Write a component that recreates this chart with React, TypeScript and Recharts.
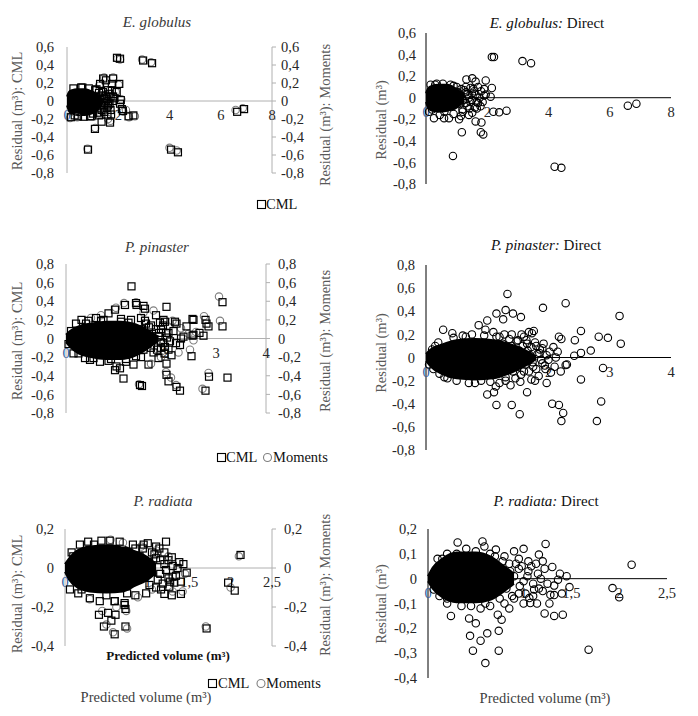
import React from 'react';
import { ComposedChart, Scatter, Area, XAxis, YAxis, ReferenceLine } from 'recharts';

const FONT = '"Liberation Serif", "DejaVu Serif", serif';
const TICK_FILL = '#262626';
const ORIGIN_FILL = '#2f5c9e';
const GREY_AXIS = '#b0b0b0';
const MOMENT_GREY = '#7f7f7f';
const LABEL_FILL = '#595959';

type Pt = [number, number];
type Env = [number, number, number];

// ---------------- tick values ----------------
const egXTicks = [0, 2, 4, 6, 8];
const egYTicks = [-0.8, -0.6, -0.4, -0.2, 0, 0.2, 0.4, 0.6];
const ppXTicks = [0, 1, 2, 3, 4];
const ppYTicks = [-0.8, -0.6, -0.4, -0.2, 0, 0.2, 0.4, 0.6, 0.8];
const prXTicks = [0, 0.5, 1, 1.5, 2, 2.5];
const prYTicksCml = [-0.4, -0.2, 0, 0.2];
const prYTicksDirect = [-0.4, -0.3, -0.2, -0.1, 0, 0.1, 0.2];

// ---------------- E. globulus ----------------
// dense cloud envelope: [x, low, high]
const egBlob: Env[] = [
  [0, -0.05, 0.05], [0.08, -0.11, 0.1], [0.2, -0.14, 0.12], [0.4, -0.155, 0.13],
  [0.7, -0.155, 0.13], [0.95, -0.14, 0.11], [1.15, -0.11, 0.08], [1.3, -0.06, 0.04], [1.4, -0.02, 0.01],
];
const egCml: Pt[] = [
  [0.25, 0.14], [0.55, 0.15], [0.85, 0.14], [1.1, 0.12], [1.25, 0.09], [1.35, 0.06], [1.45, 0.03],
  [0.15, -0.18], [0.43, -0.17], [0.65, -0.175], [0.9, -0.17], [1.02, -0.14], [1.2, -0.13], [1.35, -0.1], [1.45, -0.06],
  [1.5, -0.02], [1.55, 0.02], [1.6, -0.05], [1.65, 0.08], [1.7, -0.1], [1.58, -0.15], [1.75, 0.12],
  [1.3, 0.04], [1.35, -0.04], [1.4, 0.1], [1.45, -0.12], [1.5, 0.06], [1.55, -0.08], [1.6, 0.12],
  [1.62, 0.0], [1.66, -0.03], [1.7, 0.05], [1.72, -0.15], [1.78, 0.0], [1.85, 0.03], [1.25, -0.16],
  [1.15, 0.13], [0.3, -0.16], [0.6, 0.15], [0.95, -0.17],
  [1.29, 0.19], [1.41, 0.25], [1.52, 0.23], [1.75, 0.19], [1.8, 0.25], [2.04, 0.19], [1.94, 0.1], [2.1, 0.01],
  [1.8, 0.05], [2.07, -0.03], [2.14, -0.09], [2.18, -0.11], [2.4, -0.17], [2.59, -0.16], [1.35, -0.23],
  [1.68, -0.24], [1.09, -0.31], [0.82, -0.54], [1.95, 0.48], [2.07, 0.47], [2.97, 0.45], [3.32, 0.42],
  [4.06, -0.54], [4.33, -0.57], [6.64, -0.12], [6.91, -0.09],
];
const egMoments: Pt[] = [
  [1.97, 0.47], [2.07, 0.46], [2.93, 0.46], [3.28, 0.43], [1.8, 0.26], [1.45, 0.26], [2.02, 0.18],
  [1.25, 0.17], [2.12, 0.02], [1.9, 0.1], [2.2, -0.12], [2.42, -0.18], [2.65, -0.17], [1.6, -0.2],
  [1.7, -0.22], [1.1, -0.3], [0.8, -0.53], [4.0, -0.52], [4.28, -0.55], [6.58, -0.1], [6.86, -0.08],
  [0.12, -0.19], [0.4, -0.18], [1.55, 0.0], [1.4, -0.12], [2.3, -0.1],
];
const egDirectBlob: Env[] = [
  [0, -0.04, 0.04], [0.08, -0.1, 0.09], [0.2, -0.12, 0.11], [0.4, -0.13, 0.12], [0.7, -0.12, 0.12],
  [0.95, -0.1, 0.09], [1.1, -0.07, 0.06], [1.25, -0.03, 0.03],
];
const egDirect: Pt[] = [
  [0.15, 0.12], [0.35, 0.13], [0.55, 0.13], [0.8, 0.12], [1.0, 0.1], [1.15, 0.08], [1.3, 0.05],
  [0.1, -0.13], [0.26, -0.19], [0.45, -0.16], [0.59, -0.19], [0.75, -0.19], [0.9, -0.15], [1.08, -0.2],
  [1.2, -0.13], [1.35, -0.08], [1.4, 0.0], [1.45, -0.04], [1.5, 0.04], [1.55, 0.08], [1.62, 0.03],
  [1.7, -0.05], [1.6, -0.09], [1.75, 0.0], [1.85, -0.04], [1.51, -0.14], [1.66, -0.1], [1.3, 0.1],
  [1.05, 0.05], [1.1, -0.06], [1.15, 0.02], [1.2, -0.02], [1.25, 0.07], [1.3, -0.05], [1.35, 0.03],
  [1.42, -0.1], [1.45, 0.09], [1.5, -0.02], [1.58, 0.06], [1.65, -0.04], [1.7, 0.1], [1.78, -0.08],
  [1.9, 0.02], [0.3, 0.12], [0.6, -0.13], [0.9, 0.11], [0.2, -0.11],
  [2.15, 0.377], [2.22, 0.377], [3.15, 0.34], [3.43, 0.32], [1.32, 0.17], [1.51, 0.18], [1.62, 0.15],
  [1.95, 0.16], [2.15, 0.09], [1.9, 0.08], [2.11, 0.01], [1.95, 0.03], [1.8, 0.06], [2.2, -0.13],
  [2.39, -0.135], [2.63, -0.12], [1.19, -0.11], [1.4, -0.16], [1.14, -0.17], [1.62, -0.22], [1.81, -0.23],
  [1.79, -0.32], [1.87, -0.34], [1.17, -0.32], [0.88, -0.54], [4.2, -0.64], [4.42, -0.65],
  [6.59, -0.074], [6.87, -0.056],
];

// ---------------- P. pinaster ----------------
const ppBlob: Env[] = [
  [0, -0.04, 0.04], [0.08, -0.09, 0.08], [0.25, -0.16, 0.13], [0.5, -0.2, 0.16], [0.8, -0.22, 0.18],
  [1.1, -0.22, 0.18], [1.4, -0.18, 0.15], [1.6, -0.12, 0.1], [1.75, -0.06, 0.05], [1.85, -0.02, 0.02],
];
const ppCml: Pt[] = [
  [0.2, 0.16], [0.31, 0.2], [0.45, 0.19], [0.6, 0.22], [0.75, 0.2], [0.85, 0.27], [0.98, 0.31],
  [1.1, 0.21], [1.18, 0.36], [1.3, 0.2], [1.4, 0.38], [1.5, 0.22], [1.6, 0.16], [1.7, 0.14],
  [1.8, 0.25], [1.95, 0.2], [1.9, 0.1], [2.0, 0.06], [1.85, 0.02], [1.98, 0.18], [2.18, 0.18],
  [2.41, 0.13], [2.55, 0.2], [2.55, 0.04], [2.35, 0.02], [2.05, 0.06], [1.98, -0.09], [2.11, -0.18],
  [2.01, -0.27], [1.85, -0.21], [1.65, -0.28], [1.35, -0.28], [1.01, -0.3], [0.68, -0.25], [0.38, -0.21],
  [0.15, -0.16], [0.48, -0.23], [0.85, -0.24], [0.98, -0.34], [1.08, -0.32], [1.2, -0.25], [1.5, -0.2],
  [1.75, -0.15], [1.9, -0.1], [1.95, -0.05], [2.05, -0.12],
  [1.3, 0.12], [1.35, -0.1], [1.4, 0.05], [1.45, -0.02], [1.5, 0.1], [1.55, -0.12], [1.6, 0.04],
  [1.63, -0.06], [1.66, 0.12], [1.7, -0.1], [1.72, 0.05], [1.76, -0.02], [1.8, 0.1], [1.82, -0.12],
  [1.86, 0.06], [1.9, -0.04], [1.94, 0.14], [1.97, -0.16], [2.02, 0.01], [2.08, -0.03], [1.25, 0.17],
  [1.4, -0.19], [1.58, 0.19], [1.88, 0.17], [1.1, 0.18], [0.9, -0.22], [0.7, 0.19], [0.55, -0.21],
  [0.4, 0.16], [0.25, -0.16], [0.1, 0.08], [0.05, -0.06], [1.2, -0.22], [2.15, 0.08], [2.2, -0.05],
  [1.31, 0.56], [1.41, 0.36], [1.55, 0.35], [1.58, 0.32], [2.01, 0.34], [2.21, 0.16], [2.53, 0.21],
  [2.75, 0.03], [2.67, 0.06], [2.53, 0.03], [2.79, 0.2], [2.81, 0.16], [2.85, 0.13], [3.13, 0.39],
  [3.13, 0.13], [2.51, -0.19], [2.28, -0.07], [2.3, 0.0], [2.01, -0.39], [2.05, -0.46], [2.21, -0.52],
  [2.28, -0.56], [2.79, -0.56], [2.86, -0.41], [3.23, -0.42], [1.48, -0.5], [1.52, -0.51], [1.15, -0.43],
];
const ppMoments: Pt[] = [
  [3.06, 0.45], [3.08, 0.19], [2.76, 0.24], [1.4, 0.39], [1.16, 0.38], [1.0, 0.33], [0.7, 0.25],
  [2.13, 0.19], [2.55, -0.02], [2.48, -0.12], [2.85, -0.37], [2.73, -0.54], [2.0, -0.36], [2.1, -0.42],
  [2.2, -0.5], [1.46, -0.49], [1.7, -0.27], [2.6, 0.07], [1.75, 0.3], [2.3, 0.11], [2.45, 0.05],
  [2.05, 0.12], [1.9, -0.2], [2.25, -0.15], [1.55, 0.28], [0.5, 0.22],
];
const ppDirectBlob: Env[] = [
  [0, -0.03, 0.03], [0.08, -0.08, 0.07], [0.25, -0.14, 0.11], [0.5, -0.18, 0.15], [0.8, -0.19, 0.16],
  [1.1, -0.18, 0.15], [1.35, -0.14, 0.12], [1.55, -0.09, 0.08], [1.7, -0.05, 0.04], [1.8, -0.01, 0.01],
];
const ppDirect: Pt[] = [
  [0.15, 0.1], [0.28, 0.24], [0.43, 0.21], [0.6, 0.19], [0.75, 0.2], [0.86, 0.28], [0.97, 0.24],
  [1.0, 0.32], [1.1, 0.22], [1.15, 0.38], [1.26, 0.33], [1.3, 0.41], [1.42, 0.38], [1.55, 0.35],
  [1.2, 0.18], [1.4, 0.2], [1.5, 0.15], [1.6, 0.18], [1.73, 0.21], [1.76, 0.23], [1.65, 0.12],
  [1.8, 0.1], [1.9, 0.08], [1.85, 0.04], [0.12, -0.1], [0.3, -0.17], [0.5, -0.2], [0.7, -0.22],
  [0.9, -0.2], [1.0, -0.32], [1.11, -0.3], [1.14, -0.25], [1.2, -0.22], [1.38, -0.24], [1.54, -0.21],
  [1.72, -0.19], [1.3, -0.17], [1.6, -0.12], [1.75, -0.08], [1.9, -0.05], [1.95, -0.1], [2.0, -0.02],
  [1.65, -0.03],
  [1.25, 0.12], [1.3, 0.05], [1.35, -0.05], [1.4, 0.1], [1.42, -0.12], [1.45, 0.02], [1.48, 0.14],
  [1.5, -0.08], [1.52, 0.06], [1.55, -0.15], [1.58, 0.1], [1.6, 0.0], [1.62, -0.06], [1.64, 0.15],
  [1.66, 0.06], [1.68, -0.12], [1.7, 0.02], [1.72, 0.09], [1.74, -0.04], [1.78, 0.13], [1.8, -0.1],
  [1.82, 0.03], [1.84, -0.16], [1.86, 0.07], [1.88, -0.02], [1.92, 0.12], [1.94, -0.07], [1.97, 0.02],
  [2.02, 0.05], [2.04, -0.13], [1.36, 0.16], [1.46, -0.18], [1.56, 0.2], [1.3, -0.2], [1.28, 0.2],
  [1.68, 0.22], [1.78, -0.2], [2.12, 0.0], [0.45, 0.17], [0.35, -0.18], [0.65, 0.18], [0.8, -0.22],
  [0.95, 0.19], [1.05, -0.21], [1.15, 0.18], [0.2, 0.13], [0.22, -0.14], [0.1, 0.07], [0.05, -0.06],
  [1.33, 0.55], [1.91, 0.43], [2.28, 0.47], [3.16, 0.36], [3.18, 0.12], [2.53, 0.23],
  [2.82, 0.18], [2.97, 0.17], [2.17, 0.18], [2.21, 0.16], [2.43, 0.15], [2.69, 0.06], [2.53, 0.04],
  [2.42, 0.015], [2.28, -0.065], [2.89, -0.09], [2.53, -0.19], [2.86, -0.38], [2.79, -0.55],
  [2.21, -0.55], [2.24, -0.48], [2.17, -0.41], [2.06, -0.4], [1.97, -0.22], [1.53, -0.49],
  [1.4, -0.41], [1.15, -0.41], [1.65, -0.3], [2.08, 0.09], [2.15, 0.05], [2.1, -0.08], [2.2, -0.12],
  [2.3, -0.06],
];

// ---------------- P. radiata ----------------
const prBlob: Env[] = [
  [0, -0.02, 0.02], [0.05, -0.06, 0.05], [0.15, -0.1, 0.09], [0.3, -0.12, 0.11], [0.5, -0.125, 0.115],
  [0.7, -0.12, 0.11], [0.85, -0.09, 0.085], [1.0, -0.06, 0.055], [1.1, -0.025, 0.02],
];
const prCml: Pt[] = [
  [0.08, 0.08], [0.18, 0.12], [0.28, 0.135], [0.44, 0.14], [0.54, 0.14], [0.66, 0.135], [0.82, 0.12],
  [0.94, 0.1], [1.05, 0.08], [1.0, 0.127], [1.14, 0.1], [1.22, 0.135], [1.29, 0.055], [1.1, 0.05],
  [1.2, 0.02], [0.06, -0.11], [0.16, -0.13], [0.3, -0.155], [0.42, -0.17], [0.6, -0.17], [0.72, -0.18],
  [0.73, -0.21], [0.85, -0.14], [0.98, -0.13], [1.02, -0.087], [1.1, -0.1], [1.2, -0.133], [1.29, -0.14],
  [1.4, -0.133], [1.26, -0.096], [1.32, -0.075], [1.3, -0.045], [1.25, -0.053], [1.15, -0.03],
  [1.36, 0.0], [1.47, -0.024],
  [0.9, 0.06], [0.95, -0.05], [1.0, 0.03], [1.05, -0.02], [1.08, 0.07], [1.12, -0.06], [1.15, 0.04],
  [1.18, -0.08], [1.2, 0.08], [1.22, -0.01], [1.25, 0.04], [1.27, -0.07], [1.3, 0.01], [1.34, -0.04],
  [1.38, 0.03], [0.85, 0.1], [0.75, -0.13], [0.5, -0.14], [0.35, 0.12], [0.2, -0.11], [0.1, 0.06],
  [1.1, 0.11], [0.95, 0.12], [1.16, -0.11], [1.4, -0.07], [1.43, 0.02],
  [2.12, 0.067], [1.97, -0.075], [2.05, -0.116], [1.71, -0.31],
  [0.52, -0.23], [0.41, -0.24], [0.56, -0.27], [0.47, -0.3], [0.6, -0.34], [0.61, -0.24],
  [0.73, -0.3], [0.72, -0.19], [0.6, -0.17],
];
const prMoments: Pt[] = [
  [0.55, 0.145], [0.7, 0.13], [0.92, 0.11], [1.1, 0.09], [1.25, 0.06], [1.35, -0.01], [0.74, -0.22],
  [0.75, -0.31], [0.45, -0.22], [1.3, -0.12], [1.42, -0.12], [2.1, 0.06], [2.0, -0.1], [1.7, -0.3],
  [0.58, -0.33], [0.5, -0.29], [1.05, -0.11], [0.3, -0.16], [1.45, -0.03], [0.62, -0.2], [0.88, -0.15],
];
const prDirectBlob: Env[] = [
  [0, -0.01, 0.01], [0.05, -0.04, 0.045], [0.15, -0.075, 0.08], [0.3, -0.095, 0.105], [0.5, -0.095, 0.105],
  [0.65, -0.085, 0.09], [0.78, -0.055, 0.055], [0.9, -0.02, 0.02],
];
const prDirect: Pt[] = [
  [0.1, 0.08], [0.2, 0.1], [0.31, 0.146], [0.43, 0.086], [0.4, 0.12], [0.57, 0.15], [0.59, 0.13],
  [0.5, 0.11], [0.65, 0.1], [0.71, 0.117], [0.8, 0.09], [0.9, 0.11], [0.95, 0.08], [1.0, 0.12],
  [1.16, 0.097], [1.23, 0.14], [1.05, 0.07], [0.85, 0.06], [0.95, 0.04], [0.9, 0.01], [1.0, -0.01],
  [1.05, 0.03], [1.1, -0.02], [1.3, 0.047], [1.36, -0.004], [1.48, -0.034], [1.32, -0.028],
  [1.28, -0.065], [1.32, -0.066], [1.27, -0.1], [1.22, -0.14], [1.32, -0.15], [1.41, -0.145],
  [1.11, -0.044], [1.06, -0.078], [1.07, -0.098], [1.15, 0.02], [1.2, -0.05], [0.95, -0.06],
  [1.0, -0.1], [0.9, -0.08], [0.06, -0.044], [0.12, -0.07], [0.2, -0.1], [0.24, -0.15], [0.35, -0.11],
  [0.43, -0.16], [0.5, -0.18], [0.55, -0.12], [0.65, -0.11], [0.73, -0.145], [0.77, -0.165],
  [0.8, -0.1], [0.85, -0.12],
  [0.78, 0.07], [0.82, -0.04], [0.86, 0.03], [0.88, -0.07], [0.92, 0.06], [0.96, -0.03], [0.98, 0.05],
  [1.02, -0.06], [1.04, 0.01], [1.08, 0.05], [1.1, -0.07], [1.13, 0.06], [1.16, -0.04], [1.18, 0.0],
  [1.22, 0.04], [1.25, -0.02], [0.75, -0.08], [0.7, 0.09], [0.6, -0.1], [0.45, -0.11], [0.3, 0.1],
  [0.2, -0.08], [0.15, 0.08], [1.2, 0.07], [1.14, -0.1], [1.4, -0.06], [1.38, 0.02], [1.45, 0.01],
  [2.13, 0.056], [1.93, -0.038], [2.0, -0.075], [1.68, -0.286],
  [0.44, -0.23], [0.55, -0.25], [0.47, -0.29], [0.74, -0.29], [0.6, -0.34], [0.62, -0.22], [0.74, -0.21],
];

// ---------------- helpers ----------------
const toPts = (a: Pt[]) => a.map(([x, y]) => ({ x, y }));
const toEnv = (a: Env[]) => a.map(([x, lo, hi]) => ({ x, range: [lo, hi] }));
const fmt = (v: number) => String(Math.round(v * 10) / 10).replace('.', ',');

const SquareMark = (p: any) => (
  <rect x={p.cx - 3.5} y={p.cy - 3.5} width={7} height={7} fill="none" stroke="#000" strokeWidth={1.2} />
);
const makeRing = (color: string) => (p: any) => (
  <circle cx={p.cx} cy={p.cy} r={3.7} fill="none" stroke={color} strokeWidth={1.1} />
);
const BlackRing = makeRing('#000');
const GreyRing = makeRing(MOMENT_GREY);
const EmptyMark = () => <g />;

type PanelProps = {
  box: { left: number; top: number; width: number; height: number };
  plot: { x0: number; x1: number; y0: number; y1: number };
  xDomain: [number, number];
  xTicks: number[];
  yDomain: [number, number];
  yTicks: number[];
  dual: boolean;
  leftGap: number;
  rightGap?: number;
  blob: Env[];
  main: Pt[];
  moments?: Pt[];
};

function Panel(p: PanelProps) {
  const { box, plot } = p;
  const axisColor = p.dual ? GREY_AXIS : '#000';
  const yw = plot.x0 - box.left;
  const ryw = p.dual ? box.left + box.width - plot.x1 : 0;
  const rightMargin = p.dual ? 0 : box.left + box.width - plot.x1;
  const topMargin = plot.y0 - box.top;
  const xh = box.top + box.height - plot.y1;
  const plotH = plot.y1 - plot.y0;
  const [yMin, yMax] = p.yDomain;
  const zeroLocal = topMargin + (plotH * yMax) / (yMax - yMin);
  const envData = toEnv(p.blob);
  const mainPts = toPts(p.main);
  const momentPts = toPts(p.moments || p.main);
  const renderXTick = (t: any) => (
    <text
      x={t.x}
      y={zeroLocal + 19}
      textAnchor="middle"
      fontSize={14.5}
      fontFamily={FONT}
      fill={t.payload.value === 0 ? ORIGIN_FILL : TICK_FILL}
    >
      {fmt(t.payload.value)}
    </text>
  );
  const tickStyle = { fill: TICK_FILL, fontSize: 14.5, fontFamily: FONT };
  const layer: React.CSSProperties = { position: 'absolute', left: 0, top: 0 };
  return (
    <div style={{ position: 'absolute', left: box.left, top: box.top, width: box.width, height: box.height }}>
      {/* axes layer (underneath the data) */}
      <div style={layer}>
        <ComposedChart
          width={box.width}
          height={box.height}
          margin={{ top: topMargin, right: rightMargin, bottom: 0, left: 0 }}
          data={envData}
        >
          <XAxis
            type="number"
            dataKey="x"
            domain={p.xDomain}
            ticks={p.xTicks}
            interval={0}
            axisLine={false}
            tickLine={false}
            height={xh}
            tick={renderXTick}
          />
          <YAxis
            yAxisId="l"
            type="number"
            domain={p.yDomain}
            ticks={p.yTicks}
            interval={0}
            width={yw}
            axisLine={{ stroke: axisColor, strokeWidth: 1 }}
            tickLine={false}
            tickSize={6}
            tickMargin={p.leftGap - 6}
            tick={tickStyle}
            tickFormatter={fmt}
          />
          {p.dual && (
            <YAxis
              yAxisId="r"
              orientation="right"
              type="number"
              domain={p.yDomain}
              ticks={p.yTicks}
              interval={0}
              width={ryw}
              axisLine={{ stroke: axisColor, strokeWidth: 1 }}
              tickLine={{ stroke: axisColor }}
              tickSize={4}
              tickMargin={(p.rightGap || 12) - 4}
              tick={tickStyle}
              tickFormatter={fmt}
            />
          )}
          <ReferenceLine yAxisId="l" y={0} stroke={axisColor} strokeWidth={1} />
          <Scatter yAxisId="l" data={mainPts} dataKey="y" shape={EmptyMark} isAnimationActive={false} legendType="none" />
          {p.dual && (
            <Scatter yAxisId="r" data={momentPts} dataKey="y" shape={EmptyMark} isAnimationActive={false} legendType="none" />
          )}
        </ComposedChart>
      </div>
      {/* data layer */}
      <div style={layer}>
        <ComposedChart
          width={box.width}
          height={box.height}
          margin={{ top: topMargin, right: rightMargin + ryw, bottom: xh, left: yw }}
          data={envData}
        >
          <XAxis type="number" dataKey="x" domain={p.xDomain} ticks={p.xTicks} hide />
          <YAxis yAxisId="l" type="number" domain={p.yDomain} ticks={p.yTicks} hide />
          {p.dual && <YAxis yAxisId="r" orientation="right" type="number" domain={p.yDomain} ticks={p.yTicks} hide />}
          <Area
            yAxisId="l"
            dataKey="range"
            type="monotone"
            stroke="#000"
            strokeWidth={2}
            fill="#000"
            fillOpacity={1}
            isAnimationActive={false}
            dot={false}
            activeDot={false}
          />
          {p.dual && p.moments && (
            <Scatter
              yAxisId="r"
              data={momentPts}
              dataKey="y"
              shape={GreyRing}
              isAnimationActive={false}
            />
          )}
          <Scatter
            yAxisId="l"
            data={mainPts}
            dataKey="y"
            shape={p.dual ? SquareMark : BlackRing}
            isAnimationActive={false}
          />
        </ComposedChart>
      </div>
    </div>
  );
}

const txt = { fontFamily: FONT } as const;

function YLabel({ cx, cy, children }: { cx: number; cy: number; children: React.ReactNode }) {
  return (
    <text
      x={cx}
      y={cy}
      transform={`rotate(-90 ${cx} ${cy})`}
      textAnchor="middle"
      dominantBaseline="central"
      fontSize={14.5}
      fill={LABEL_FILL}
      style={txt}
    >
      {children}
    </text>
  );
}

function Title({ x, y, italic, rest, fill }: { x: number; y: number; italic: string; rest?: string; fill: string }) {
  return (
    <text x={x} y={y} textAnchor="middle" fontSize={15} fill={fill} style={txt}>
      <tspan fontStyle="italic">{italic}</tspan>
      {rest ? <tspan>{rest}</tspan> : null}
    </text>
  );
}

export default function App() {
  return (
    <div style={{ position: 'absolute', left: 0, top: 0, width: 698, height: 716, background: '#fff', overflow: 'hidden', fontFamily: FONT }}>
      <Panel
        box={{ left: 0, top: 20, width: 349, height: 180 }}
        plot={{ x0: 67, x1: 272, y0: 47, y1: 173 }}
        xDomain={[0, 8]}
        xTicks={egXTicks}
        yDomain={[-0.8, 0.6]}
        yTicks={egYTicks}
        dual
        leftGap={13}
        rightGap={9}
        blob={egBlob}
        main={egCml}
        moments={egMoments}
      />
      <Panel
        box={{ left: 349, top: 10, width: 349, height: 200 }}
        plot={{ x0: 426, x1: 671, y0: 33, y1: 184 }}
        xDomain={[0, 8]}
        xTicks={egXTicks}
        yDomain={[-0.8, 0.6]}
        yTicks={egYTicks}
        dual={false}
        leftGap={10}
        blob={egDirectBlob}
        main={egDirect}
      />
      <Panel
        box={{ left: 0, top: 240, width: 349, height: 200 }}
        plot={{ x0: 66, x1: 266, y0: 264, y1: 413 }}
        xDomain={[0, 4]}
        xTicks={ppXTicks}
        yDomain={[-0.8, 0.8]}
        yTicks={ppYTicks}
        dual
        leftGap={12}
        rightGap={12}
        blob={ppBlob}
        main={ppCml}
        moments={ppMoments}
      />
      <Panel
        box={{ left: 349, top: 240, width: 349, height: 230 }}
        plot={{ x0: 426, x1: 671, y0: 265, y1: 450 }}
        xDomain={[0, 4]}
        xTicks={ppXTicks}
        yDomain={[-0.8, 0.8]}
        yTicks={ppYTicks}
        dual={false}
        leftGap={11}
        blob={ppDirectBlob}
        main={ppDirect}
      />
      <Panel
        box={{ left: 0, top: 490, width: 349, height: 180 }}
        plot={{ x0: 65, x1: 272, y0: 529, y1: 646 }}
        xDomain={[0, 2.5]}
        xTicks={prXTicks}
        yDomain={[-0.4, 0.2]}
        yTicks={prYTicksCml}
        dual
        leftGap={11}
        rightGap={12}
        blob={prBlob}
        main={prCml}
        moments={prMoments}
      />
      <Panel
        box={{ left: 349, top: 490, width: 349, height: 200 }}
        plot={{ x0: 428, x1: 667, y0: 529, y1: 678 }}
        xDomain={[0, 2.5]}
        xTicks={prXTicks}
        yDomain={[-0.4, 0.2]}
        yTicks={prYTicksDirect}
        dual={false}
        leftGap={11}
        blob={prDirectBlob}
        main={prDirect}
      />

      <svg width={698} height={716} style={{ position: 'absolute', left: 0, top: 0, pointerEvents: 'none' }}>
        <Title x={157} y={27} italic="E. globulus" fill="#3a3a3a" />
        <Title x={547} y={28} italic="E. globulus:" rest=" Direct" fill="#111" />
        <Title x={157} y={252} italic="P. pinaster" fill="#3a3a3a" />
        <Title x={546} y={250} italic="P. pinaster:" rest=" Direct" fill="#111" />
        <Title x={163} y={506} italic="P. radiata" fill="#3a3a3a" />
        <Title x={546} y={506} italic="P. radiata:" rest=" Direct" fill="#111" />

        <YLabel cx={17} cy={111}>Residual (m³): CML</YLabel>
        <YLabel cx={325} cy={115}>Residual (m³): Moments</YLabel>
        <YLabel cx={381} cy={120}>Residual (m³)</YLabel>
        <YLabel cx={17} cy={341}>Residual (m³): CML</YLabel>
        <YLabel cx={325} cy={341}>Residual (m³): Moments</YLabel>
        <YLabel cx={381} cy={353}>Residual (m³)</YLabel>
        <YLabel cx={17} cy={594}>Residual (m³): CML</YLabel>
        <YLabel cx={325} cy={585}>Residual (m³): Moments</YLabel>
        <YLabel cx={381} cy={604}>Residual (m³)</YLabel>

        <text x={168} y={660} textAnchor="middle" fontSize={13} fontWeight="bold" fill="#111" style={txt}>
          Predicted volume (m³)
        </text>
        <text x={146} y={702} textAnchor="middle" fontSize={14.5} fill="#404040" style={txt}>
          Predicted volume (m³)
        </text>
        <text x={545} y={703} textAnchor="middle" fontSize={14.5} fill="#404040" style={txt}>
          Predicted volume (m³)
        </text>

        {/* legends */}
        <rect x={257.5} y={200.5} width={8} height={8} fill="none" stroke="#000" strokeWidth={1.1} />
        <text x={266} y={209} fontSize={14.5} fill="#111" style={txt}>CML</text>

        <rect x={217.5} y={453.5} width={8} height={8} fill="none" stroke="#000" strokeWidth={1.1} />
        <text x={226} y={462} fontSize={14.5} fill="#111" style={txt}>CML</text>
        <circle cx={267.5} cy={457.5} r={4} fill="none" stroke={MOMENT_GREY} strokeWidth={1.1} />
        <text x={273} y={462} fontSize={14.5} fill="#111" style={txt}>Moments</text>

        <rect x={208.5} y={679.5} width={8} height={8} fill="none" stroke="#000" strokeWidth={1.1} />
        <text x={218} y={688} fontSize={14.5} fill="#111" style={txt}>CML</text>
        <circle cx={261} cy={683.5} r={4} fill="none" stroke={MOMENT_GREY} strokeWidth={1.1} />
        <text x={266} y={688} fontSize={14.5} fill="#111" style={txt}>Moments</text>
      </svg>
    </div>
  );
}
